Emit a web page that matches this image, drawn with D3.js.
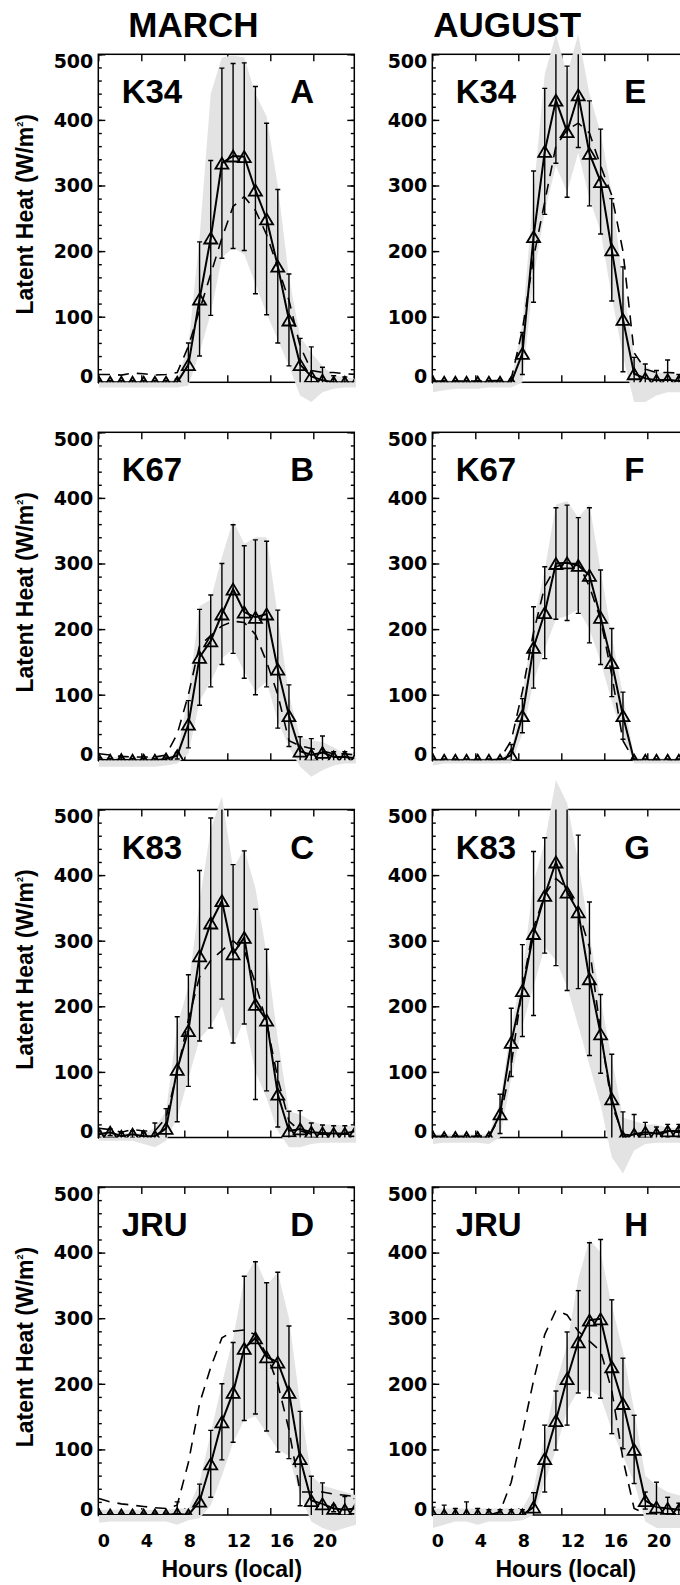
<!DOCTYPE html>
<html>
<head>
<meta charset="utf-8">
<script src="https://cdn.jsdelivr.net/npm/d3@7"></script>
<style>
  body { margin: 0; background: #fff; }
  text { font-family: "Liberation Sans", Arial, Helvetica, sans-serif; font-weight: bold; fill: #000; }
  text.tick-num { font-family: "DejaVu Sans", "Liberation Sans", sans-serif; }
</style>
</head>
<body>
<svg id="chart" width="680" height="1585"></svg>
<script>
// ---- data: mean diurnal latent heat flux (W/m^2), hours 0..23 local time ----
const hours = d3.range(24);
const xTickValues = [0, 4, 8, 12, 16, 20];
const yMajorTicks = [0, 100, 200, 300, 400, 500];
const yMinorTicks = d3.range(0, 501, 20);
const months = ["MARCH", "AUGUST"];
const stations = ["K34", "K67", "K83", "JRU"];
const lettersMarch = ["A", "B", "C", "D"];
const lettersAugust = ["E", "F", "G", "H"];

// K34, March
const obsK34Mar   = [0,0,0,0,0,0,0,0, 27,127,220,334,345,344,293,249,177,95,27,9,3,0,0,0];
const errK34Mar   = [3,3,3,3,3,3,3,5, 33,87,118,145,141,143,158,146,117,70,40,45,20,10,8,8];
const modK34Mar   = [12,12,11,14,13,11,12,15, 55,110,165,220,268,283,262,225,175,125,55,18,15,15,13,12];
const loK34Mar    = [-8,-8,-8,-8,-8,-8,-8,-8, -5,45,105,190,205,195,150,105,65,25,-20,-30,-15,-10,-8,-8];
const hiK34Mar    = [2,2,2,2,2,2,2,5, 55,220,440,495,498,495,440,405,300,160,70,45,25,10,8,5];

// K67, March
const obsK67Mar   = [1,0,1,0,0,0,2,7, 55,157,182,223,261,226,218,223,139,68,14,8,12,5,5,3];
const errK67Mar   = [3,3,3,3,3,3,3,5, 36,73,70,77,98,101,118,111,90,47,22,25,25,8,8,8];
const modK67Mar   = [10,8,6,5,5,5,8,40, 100,175,190,205,212,210,192,150,100,30,22,18,14,10,10,8];
const loK67Mar    = [-10,-10,-10,-10,-10,-10,-8,-5, 10,90,120,155,170,135,105,120,60,20,-10,-25,-15,-8,-5,-5];
const hiK67Mar    = [5,5,5,5,5,5,5,10, 100,235,245,310,365,330,340,340,220,100,35,30,28,20,10,5];

// K83, March
const obsK83Mar   = [5,8,2,5,2,2,14,104, 163,277,327,361,280,305,203,179,66,10,13,8,7,6,6,10];
const errK83Mar   = [5,5,5,5,5,20,30,80, 85,130,160,150,136,132,145,108,50,30,28,14,12,12,12,12];
const modK83Mar   = [14,12,8,12,10,10,30,100, 180,245,270,285,300,285,235,175,90,25,10,5,5,5,5,5];
const loK83Mar    = [-5,-5,-5,-5,-10,-15,-5,30, 90,150,170,200,140,180,100,60,10,-15,-15,-10,-8,-8,-8,-8];
const hiK83Mar    = [10,8,6,8,6,15,40,170, 230,360,470,520,410,440,380,280,150,40,35,25,20,20,18,18];

// JRU, March
const obsJRUMar   = [0,0,0,0,0,0,0,2, 0,21,78,142,187,254,270,241,233,187,86,22,17,10,8,10];
const errJRUMar   = [3,3,3,3,3,3,3,18, 3,26,51,58,76,110,116,113,137,101,72,37,32,5,20,15];
const modJRUMar   = [25,20,17,15,13,11,10,15, 80,170,225,270,280,282,275,245,200,130,35,35,35,32,30,28];
const loJRUMar    = [-12,-10,-10,-10,-10,-10,-10,-15, -8,-5,15,60,110,145,150,125,100,90,30,-10,-20,-25,-20,-15];
const hiJRUMar    = [8,8,8,8,8,8,8,10, 10,50,125,200,270,360,390,350,370,300,170,60,45,40,35,30];

// K34, August
const obsK34Aug   = [0,0,0,0,0,0,0,0, 44,222,352,430,382,438,349,306,202,96,13,6,3,4,2,1];
const errK34Aug   = [3,3,3,3,3,3,3,3, 32,100,96,96,100,80,80,80,78,80,25,22,15,30,10,10];
const modK34Aug   = [2,2,2,2,2,2,3,5, 80,190,275,360,385,395,380,330,285,200,45,20,15,15,14,13];
const loK34Aug    = [-15,-12,-10,-10,-10,-8,-8,-8, 0,160,260,330,290,350,280,230,130,40,-30,-30,-20,-15,-15,-15];
const hiK34Aug    = [3,3,3,3,3,3,3,3, 90,290,470,530,470,530,440,380,290,150,40,25,15,15,10,10];

// K67, August
const obsK67Aug   = [0,0,0,0,0,0,0,8, 68,172,225,300,301,297,282,218,149,68,0,0,0,0,0,0];
const errK67Aug   = [2,2,2,2,2,2,2,16, 26,62,70,85,88,73,103,72,52,36,2,2,2,2,2,2];
const modK67Aug   = [0,0,0,0,0,0,2,30, 105,195,265,295,300,300,265,215,130,30,0,0,0,0,0,0];
const loK67Aug    = [-8,-5,-5,-5,-5,-5,-5,-5, 40,120,170,215,220,230,200,150,90,35,-5,-5,-5,-5,-5,-5];
const hiK67Aug    = [3,3,3,3,3,3,3,15, 100,210,290,390,395,370,390,290,190,100,5,3,3,3,3,3];

// K83, August
const obsK83Aug   = [0,0,0,0,0,0,36,145, 224,311,369,420,374,344,242,158,59,0,5,8,6,10,10,8];
const errK83Aug   = [3,3,3,3,3,3,30,52, 70,125,88,158,150,117,117,60,68,39,30,15,10,10,10,10];
const modK83Aug   = [2,2,2,2,2,3,30,110, 230,320,370,395,380,345,290,160,50,5,3,5,5,8,8,8];
const loK83Aug    = [-10,-8,-8,-8,-8,-10,0,90, 170,230,290,270,230,170,110,50,-30,-55,-20,-10,-8,-8,-8,-8];
const hiK83Aug    = [5,5,5,5,5,5,55,170, 250,390,450,545,510,420,310,210,120,30,25,20,20,15,15,15];

// JRU, August
const obsJRUAug   = [0,0,0,0,0,0,0,0, 0,12,86,144,208,264,297,299,226,170,100,22,12,10,8,8];
const errJRUAug   = [12,15,10,20,10,8,8,8, 8,22,51,45,71,78,118,121,102,69,52,13,38,17,10,10];
const modJRUAug   = [0,0,0,0,0,0,5,50, 125,205,275,312,305,280,265,250,190,85,10,2,2,2,2,2];
const loJRUAug    = [-20,-15,-10,-10,-15,-10,-10,-10, -8,0,50,100,160,190,190,180,130,90,50,-10,-20,-20,-20,-20];
const hiJRUAug    = [10,10,10,10,10,10,10,10, 10,40,120,200,260,360,420,400,320,250,160,60,45,35,30,30];

// ---- layout ----
const colLeft = [98.3, 432.3];
const rowTop = [54.3, 432.3, 809.5, 1187];
const plotW = 256, plotH = 328;
const titleX = [128.3, 433.3];

const panels = [
  { col: 0, row: 0, obs: obsK34Mar, err: errK34Mar, mod: modK34Mar, lo: loK34Mar, hi: hiK34Mar },
  { col: 0, row: 1, obs: obsK67Mar, err: errK67Mar, mod: modK67Mar, lo: loK67Mar, hi: hiK67Mar },
  { col: 0, row: 2, obs: obsK83Mar, err: errK83Mar, mod: modK83Mar, lo: loK83Mar, hi: hiK83Mar },
  { col: 0, row: 3, obs: obsJRUMar, err: errJRUMar, mod: modJRUMar, lo: loJRUMar, hi: hiJRUMar },
  { col: 1, row: 0, obs: obsK34Aug, err: errK34Aug, mod: modK34Aug, lo: loK34Aug, hi: hiK34Aug },
  { col: 1, row: 1, obs: obsK67Aug, err: errK67Aug, mod: modK67Aug, lo: loK67Aug, hi: hiK67Aug },
  { col: 1, row: 2, obs: obsK83Aug, err: errK83Aug, mod: modK83Aug, lo: loK83Aug, hi: hiK83Aug },
  { col: 1, row: 3, obs: obsJRUAug, err: errJRUAug, mod: modJRUAug, lo: loJRUAug, hi: hiJRUAug }
];

const svg = d3.select("#chart");

// tick numbers use a wide bold face
function tickText(parent, x, y, str, anchor, size) {
  return parent.append("text")
    .attr("class", "tick-num")
    .attr("x", x).attr("y", y)
    .attr("text-anchor", anchor)
    .style("font-size", size + "px")
    .text(str);
}

// column headings
months.forEach((m, i) => {
  svg.append("text")
    .attr("x", titleX[i]).attr("y", 36.5)
    .style("font-size", "35px")
    .text(m);
});

const trianglePath = "M0,-5.5L6.5,5.5L-6.5,5.5Z";

panels.forEach((p, idx) => {
  const left = colLeft[p.col], top = rowTop[p.row];
  const right = left + plotW, bottom = top + plotH;

  const x = d3.scaleLinear().domain([0, 23]).range([left + 0.7, left + 257.7]);
  const xt = d3.scaleLinear().domain([0, 24]).range([left, left + 258]);
  const y = d3.scaleLinear().domain([0, 500]).range([bottom, top]);

  const g = svg.append("g");

  // ticks (inward on all four sides)
  const axes = g.append("g").attr("class", "axes");
  const tickStyle = sel => {
    sel.select(".domain").remove();
    sel.selectAll("line").attr("stroke", "#000").attr("stroke-width", 1.4);
  };
  axes.append("g").attr("transform", `translate(${left},0)`)
    .call(d3.axisLeft(y).tickValues(yMinorTicks).tickSize(-3.5).tickFormat("")).call(tickStyle);
  axes.append("g").attr("transform", `translate(${left},0)`)
    .call(d3.axisLeft(y).tickValues(yMajorTicks).tickSize(-7).tickFormat("")).call(tickStyle);
  axes.append("g").attr("transform", `translate(${right},0)`)
    .call(d3.axisRight(y).tickValues(yMinorTicks).tickSize(-3.5).tickFormat("")).call(tickStyle);
  axes.append("g").attr("transform", `translate(${right},0)`)
    .call(d3.axisRight(y).tickValues(yMajorTicks).tickSize(-7).tickFormat("")).call(tickStyle);
  axes.append("g").attr("transform", `translate(0,${top})`)
    .call(d3.axisTop(xt).tickValues(xTickValues).tickSize(-7).tickFormat("")).call(tickStyle);
  axes.append("g").attr("transform", `translate(0,${bottom})`)
    .call(d3.axisBottom(xt).tickValues(xTickValues).tickSize(-7).tickFormat("")).call(tickStyle);
  axes.append("rect")
    .attr("x", left).attr("y", top).attr("width", plotW).attr("height", plotH)
    .attr("fill", "none").attr("stroke", "#000").attr("stroke-width", 1.5);

  // y tick labels (end labels kept inside the frame height)
  yMajorTicks.forEach(v => {
    const by = Math.max(top + 13.8, Math.min(bottom + 0.6, y(v) + 6.8));
    tickText(g, left - 5, by, String(v), "end", 19);
  });

  // x tick labels on the bottom row only
  if (p.row === 3) {
    xTickValues.forEach(v => tickText(g, xt(v) - 0.5, bottom + 32, String(v), "start", 17.5));
    g.append("text")
      .attr("x", left + 133.5).attr("y", bottom + 62)
      .attr("text-anchor", "middle")
      .style("font-size", "23px")
      .text("Hours (local)");
  }

  // y-axis title on the left column
  if (p.col === 0) {
    const t = g.append("text")
      .attr("transform", `translate(33.3,${top + 160}) rotate(-90)`)
      .attr("text-anchor", "middle")
      .style("font-size", "23px");
    t.append("tspan").text("Latent Heat (W/m");
    t.append("tspan").attr("dy", -10).style("font-size", "9px").text("2");
    t.append("tspan").attr("dy", 10).text(")");
  }

  // station and panel letters
  g.append("text").attr("x", left + 23.4).attr("y", top + 49)
    .style("font-size", "33px").text(stations[p.row]);
  g.append("text").attr("x", left + 192).attr("y", top + 49)
    .style("font-size", "33px")
    .text((p.col === 0 ? lettersMarch : lettersAugust)[p.row]);

  // shaded range (not clipped)
  const band = d3.area()
    .x(h => x(h))
    .y0(h => y(p.lo[h]))
    .y1(h => y(p.hi[h]));
  g.append("path").datum(hours).attr("d", band).attr("fill", "#e3e3e3");

  // clipped data layer
  const clipId = "clip" + idx;
  g.append("clipPath").attr("id", clipId)
    .append("rect").attr("x", left).attr("y", top).attr("width", plotW).attr("height", plotH);
  const data = g.append("g").attr("clip-path", `url(#${clipId})`);

  // model (dashed)
  data.append("path").datum(hours)
    .attr("d", d3.line().x(h => x(h)).y(h => y(p.mod[h])))
    .attr("fill", "none").attr("stroke", "#000").attr("stroke-width", 1.6)
    .attr("stroke-dasharray", "11,8");

  // error bars
  const eb = data.append("g").attr("stroke", "#000").attr("stroke-width", 1.4);
  hours.forEach(h => {
    const cx = x(h), y1 = y(p.obs[h] + p.err[h]), y2 = y(p.obs[h] - p.err[h]);
    eb.append("line").attr("x1", cx).attr("x2", cx).attr("y1", y1).attr("y2", y2);
    eb.append("line").attr("x1", cx - 2.5).attr("x2", cx + 2.5).attr("y1", y1).attr("y2", y1);
    eb.append("line").attr("x1", cx - 2.5).attr("x2", cx + 2.5).attr("y1", y2).attr("y2", y2);
  });

  // observed mean (solid) with triangles
  data.append("path").datum(hours)
    .attr("d", d3.line().x(h => x(h)).y(h => y(p.obs[h])))
    .attr("fill", "none").attr("stroke", "#000").attr("stroke-width", 2);
  data.selectAll(null).data(hours).enter().append("path")
    .attr("d", trianglePath)
    .attr("transform", h => `translate(${x(h)},${y(p.obs[h])})`)
    .attr("fill", "none").attr("stroke", "#000").attr("stroke-width", 1.8);
});
</script>
</body>
</html>
